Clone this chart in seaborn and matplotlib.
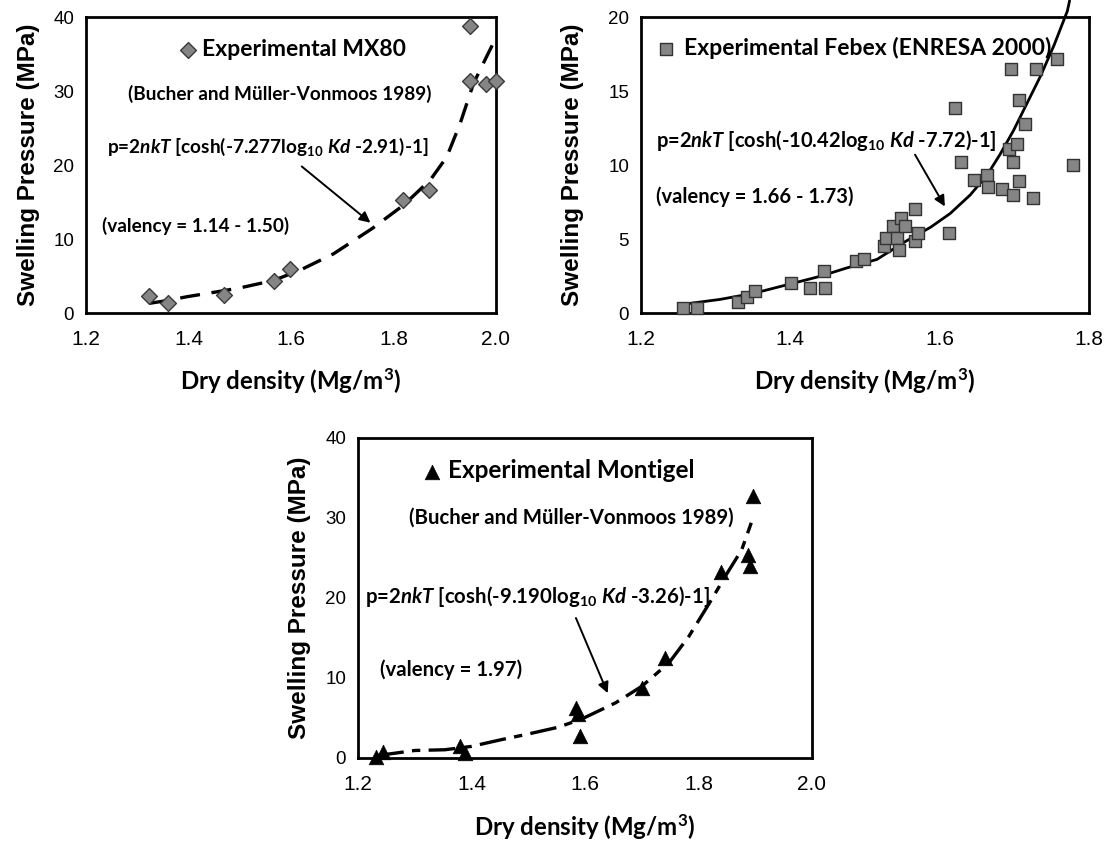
import matplotlib
matplotlib.use("Agg")
import matplotlib.pyplot as plt
import seaborn as sns
import pandas as pd
from matplotlib.ticker import MultipleLocator, FormatStrFormatter

# ---------------- data ----------------
# MX80 (Bucher and Müller-Vonmoos 1989)
mx80_density = [1.323, 1.360, 1.469, 1.566, 1.598, 1.818, 1.869, 1.949, 1.949, 1.981, 2.000]
mx80_pressure = [2.3, 1.3, 2.5, 4.3, 5.9, 15.3, 16.6, 38.8, 31.4, 31.0, 31.4]
mx80_fit_density = [1.323, 1.360, 1.397, 1.450, 1.501, 1.566, 1.618, 1.683, 1.758, 1.820, 1.872, 1.904, 1.930, 1.956, 1.982, 2.000]
mx80_fit_pressure = [1.3, 1.7, 2.2, 2.8, 3.4, 4.4, 5.8, 8.0, 11.4, 14.6, 18.0, 21.1, 25.6, 31.0, 34.7, 37.2]

# Febex (ENRESA 2000)
febex_density = [1.256, 1.275, 1.330, 1.342, 1.353, 1.401, 1.427, 1.445, 1.447, 1.488,
                 1.499, 1.525, 1.528, 1.537, 1.543, 1.546, 1.548, 1.554, 1.567, 1.571,
                 1.567, 1.612, 1.621, 1.629, 1.646, 1.663, 1.665, 1.683, 1.693, 1.695,
                 1.698, 1.698, 1.704, 1.706, 1.706, 1.714, 1.725, 1.729, 1.757, 1.778]
febex_pressure = [0.37, 0.37, 0.71, 1.06, 1.51, 2.02, 1.72, 2.82, 1.72, 3.51,
                  3.62, 4.50, 5.05, 5.87, 5.05, 4.27, 6.42, 5.87, 4.86, 5.41,
                  7.06, 5.41, 13.88, 10.21, 8.99, 9.31, 8.53, 8.39, 11.08, 16.47,
                  10.21, 7.98, 11.42, 14.36, 8.90, 12.80, 7.75, 16.47, 17.13, 10.0]
febex_fit_density = [1.258, 1.306, 1.351, 1.395, 1.440, 1.476, 1.516, 1.552, 1.588, 1.614,
                     1.641, 1.664, 1.681, 1.699, 1.717, 1.735, 1.753, 1.771, 1.774]
febex_fit_pressure = [0.6, 0.92, 1.33, 1.90, 2.48, 3.05, 3.62, 4.77, 5.80, 6.72,
                      7.98, 9.36, 10.73, 12.34, 14.17, 16.0, 18.07, 20.4, 21.1]

# Montigel (Bucher and Müller-Vonmoos 1989)
mont_density = [1.232, 1.244, 1.379, 1.389, 1.585, 1.588, 1.592, 1.700, 1.741, 1.840, 1.887, 1.890, 1.896]
mont_pressure = [0.1, 0.8, 1.5, 0.6, 6.3, 5.5, 2.7, 8.8, 12.5, 23.3, 25.4, 24.0, 32.7]
mont_fit_density = [1.234, 1.300, 1.353, 1.400, 1.453, 1.500, 1.553, 1.595, 1.654, 1.700,
                    1.748, 1.783, 1.823, 1.847, 1.876, 1.893]
mont_fit_pressure = [0.3, 0.94, 1.03, 1.45, 2.3, 3.0, 3.85, 4.9, 6.9, 8.96,
                     11.9, 15.2, 19.8, 22.7, 26.0, 29.4]

# ---------------- style ----------------
sns.set_theme(style="white")
plt.rcParams["font.family"] = ["Liberation Sans", "DejaVu Sans"]
plt.rcParams["text.color"] = "black"
plt.rcParams["mathtext.fontset"] = "custom"
plt.rcParams["mathtext.rm"] = "Lato:bold"
plt.rcParams["mathtext.it"] = "Lato:italic:bold"
plt.rcParams["mathtext.bf"] = "Lato:bold"

TXT = dict(family="Lato", weight="bold", color="black", ha="left", va="center")
GREY = "#858585"

fig = plt.figure(figsize=(11.07, 8.48), dpi=100)
W, H = 1107, 848


def make_ax(left, right, top, bottom):
    return fig.add_axes([left / W, 1 - bottom / H, (right - left) / W, (bottom - top) / H])


ax1 = make_ax(86, 496, 17, 313)
ax2 = make_ax(641, 1089, 17, 313)
ax3 = make_ax(358, 812, 438, 758)


def style_axis(ax, xlim, ylim, ymaj, ymin, ylab_x, xlab_y):
    ax.set_xlim(*xlim)
    ax.set_ylim(*ylim)
    ax.xaxis.set_major_locator(MultipleLocator(0.2))
    ax.xaxis.set_minor_locator(MultipleLocator(0.1))
    ax.xaxis.set_major_formatter(FormatStrFormatter("%.1f"))
    ax.yaxis.set_major_locator(MultipleLocator(ymaj))
    ax.yaxis.set_minor_locator(MultipleLocator(ymin))
    for s in ax.spines.values():
        s.set_visible(True)
        s.set_color("black")
        s.set_linewidth(2.0)
    ax.tick_params(which="major", direction="inout", length=9, width=1.1, color="black")
    ax.tick_params(which="minor", direction="in", length=5, width=1.1, color="black")
    ax.tick_params(axis="x", which="major", labelsize=15, pad=8, labelcolor="black")
    ax.tick_params(axis="y", which="major", labelsize=13.5, pad=4, labelcolor="black")
    ax.set_ylabel("Swelling Pressure (MPa)", fontsize=17.5, fontweight="bold",
                  family=["Liberation Sans"], color="black")
    ax.yaxis.set_label_coords(ylab_x, 0.5)
    ax.set_xlabel("Dry density (Mg/m$^3$)", fontsize=17.3, color="black",
                  family="Lato", fontweight="bold")
    ax.xaxis.set_label_coords(0.5, xlab_y)
    ax.grid(False)
    ax.set_facecolor("white")


def add_arrow(ax, tail, head):
    ax.annotate("", xy=head, xytext=tail,
                arrowprops=dict(arrowstyle="-|>", color="black", lw=1.4,
                                mutation_scale=16, shrinkA=0, shrinkB=0))


def add_legend(ax, anchor, pad, size):
    ax.legend(loc="center left", bbox_to_anchor=anchor, frameon=False,
              borderpad=0, borderaxespad=0, handlelength=0.8, handletextpad=pad,
              labelcolor="black",
              prop=dict(family="Lato", weight="bold", size=size))


# ---------------- panel 1: MX80 ----------------
sns.lineplot(x=mx80_fit_density, y=mx80_fit_pressure, ax=ax1, color="black", lw=2.4, sort=True)
ax1.lines[-1].set_dashes([6, 3.5])
sns.scatterplot(x=mx80_density, y=mx80_pressure, ax=ax1, marker="D", s=65,
                color=GREY, edgecolor="#3a3a3a", linewidth=1.0, clip_on=False, zorder=3,
                label="Experimental MX80")
style_axis(ax1, (1.2, 2.0), (0, 40), 10, 5, -0.112, -0.18)
add_legend(ax1, (0.226, 0.889), 0.21, 16.5)
A1 = 13.7
ax1.text(1.282, 29.6, "(Bucher and Müller-Vonmoos 1989)", fontsize=A1, **TXT)
ax1.text(1.241, 22.4, r"p=2$nkT$ [cosh(-7.277log$_{10}$ $Kd$ -2.91)-1]", fontsize=A1, **TXT)
ax1.text(1.231, 11.8, "(valency = 1.14 - 1.50)", fontsize=A1, **TXT)
add_arrow(ax1, (1.621, 19.8), (1.755, 12.2))

# ---------------- panel 2: Febex ----------------
sns.lineplot(x=febex_fit_density, y=febex_fit_pressure, ax=ax2, color="black", lw=2.0,
             sort=True, clip_on=False)
sns.scatterplot(x=febex_density, y=febex_pressure, ax=ax2, marker="s", s=70,
                color=GREY, edgecolor="#333333", linewidth=1.0, clip_on=False, zorder=3,
                label="Experimental Febex (ENRESA 2000)")
style_axis(ax2, (1.2, 1.8), (0, 20), 5, 2.5, -0.127, -0.18)
add_legend(ax2, (0.035, 0.894), 0.39, 16.5)
A2 = 14.5
ax2.text(1.220, 11.65, r"p=2$nkT$ [cosh(-10.42log$_{10}$ $Kd$ -7.72)-1]", fontsize=A2, **TXT)
ax2.text(1.220, 7.88, "(valency = 1.66 - 1.73)", fontsize=A2, **TXT)
add_arrow(ax2, (1.567, 10.7), (1.607, 7.2))

# ---------------- panel 3: Montigel ----------------
sns.lineplot(x=mont_fit_density, y=mont_fit_pressure, ax=ax3, color="black", lw=2.4, sort=True)
ax3.lines[-1].set_dashes([8, 2.5, 2.5, 2.5])
sns.scatterplot(x=mont_density, y=mont_pressure, ax=ax3, marker="^", s=110,
                color="black", edgecolor="black", linewidth=0.5, clip_on=False, zorder=3,
                label="Experimental Montigel")
style_axis(ax3, (1.2, 2.0), (0, 40), 10, 5, -0.1035, -0.17)
add_legend(ax3, (0.1405, 0.8975), 0.28, 17.5)
A3 = 14.7
ax3.text(1.290, 30.1, "(Bucher and Müller-Vonmoos 1989)", fontsize=A3, **TXT)
ax3.text(1.213, 20.2, r"p=2$nkT$ [cosh(-9.190log$_{10}$ $Kd$ -3.26)-1]", fontsize=A3, **TXT)
ax3.text(1.238, 11.0, "(valency = 1.97)", fontsize=A3, **TXT)
add_arrow(ax3, (1.584, 17.5), (1.640, 8.1))

fig.savefig("out.png", dpi=100, facecolor="white")
